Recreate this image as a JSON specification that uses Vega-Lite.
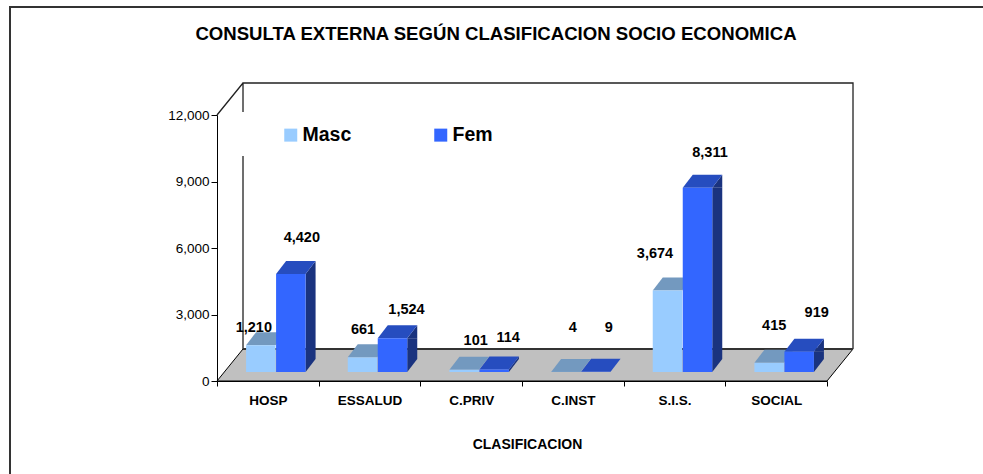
{
"$schema":"https://vega.github.io/schema/vega-lite/v6.json",
"width":610,"height":266,
"autosize":"none",
"padding":{"left":217,"top":115,"right":156,"bottom":93},
"background":"white",
"config":{"font":"Liberation Sans","view":{"stroke":null},"text":{"font":"Liberation Sans"}},
"title":{"text":"CONSULTA EXTERNA SEGÚN CLASIFICACION SOCIO ECONOMICA","anchor":"middle","dx":-26,"dy":41,"offset":0,"fontSize":18.6,"fontWeight":"bold","color":"#000","font":"Liberation Sans"},
"data":{"values":[
{"category":"HOSP","series":"Masc","value":1210},{"category":"HOSP","series":"Fem","value":4420},
{"category":"ESSALUD","series":"Masc","value":661},{"category":"ESSALUD","series":"Fem","value":1524},
{"category":"C.PRIV","series":"Masc","value":101},{"category":"C.PRIV","series":"Fem","value":114},
{"category":"C.INST","series":"Masc","value":4},{"category":"C.INST","series":"Fem","value":9},
{"category":"S.I.S.","series":"Masc","value":3674},{"category":"S.I.S.","series":"Fem","value":8311},
{"category":"SOCIAL","series":"Masc","value":415},{"category":"SOCIAL","series":"Fem","value":919}
]},
"encoding":{
"x":{"field":"category","type":"nominal","sort":["HOSP","ESSALUD","C.PRIV","C.INST","S.I.S.","SOCIAL"],
"scale":{"type":"band","paddingInner":0,"paddingOuter":0},
"axis":{"title":"CLASIFICACION","titleFontSize":14,"titleFontWeight":"bold","titleColor":"#000","titleX":310,"titleY":63,"titleBaseline":"middle","labelAngle":0,"labelFontSize":13.5,"labelFontWeight":"bold","labelColor":"#000","labelPadding":7,"labelBaseline":"top","tickBand":"extent","tickSize":5,"tickColor":"#000","domainColor":"#000","grid":false,"zindex":1}},
"y":{"field":"value","type":"quantitative","stack":null,"scale":{"domain":[0,12000],"nice":false},
"axis":{"title":null,"values":[0,3000,6000,9000,12000],"format":",d","labelFontSize":13.5,"labelColor":"#000","labelPadding":2,"tickSize":6,"tickColor":"#000","domainColor":"#000","grid":false,"zindex":1}}
},
"layer":[
{"transform":[{"filter":"datum.category=='HOSP' && datum.series=='Masc'"}],"mark":{"type":"point","shape":"M0,0 L26,-32 L636,-32 L610,0 Z","size":4,"filled":true,"fill":"#C0C0C0","stroke":"#000","strokeWidth":1,"opacity":1,"xOffset":-50.83},"encoding":{"y":{"datum":0}}},
{"transform":[{"filter":"datum.category=='HOSP' && datum.series=='Masc'"}],"mark":{"type":"point","shape":"M26,-32 L26,-225 M26,-269 L26,-298 L636,-298 L636,-32 M0,-266 L26,-298","size":4,"filled":false,"stroke":"#222","strokeWidth":1.3,"opacity":1,"xOffset":-50.83},"encoding":{"y":{"datum":0}}},
{"transform":[{"filter":"datum.category=='HOSP' && datum.series=='Masc'"}],"mark":{"type":"point","shape":"M26,-32 L636,-32 M-207,93 L-207,-374 L766,-374","size":4,"filled":false,"stroke":"#333","strokeWidth":2,"opacity":1,"xOffset":-50.83},"encoding":{"y":{"datum":0}}},

{"transform":[{"filter":"datum.series=='Masc'"}],"mark":{"type":"point","shape":"M-14.75,0 L-4.75,-13 L24.75,-13 L14.75,0 Z","size":4,"filled":true,"fill":"#7399BF","strokeWidth":0,"opacity":1,"xOffset":-7,"yOffset":-9}},
{"transform":[{"filter":"datum.series=='Masc'"}],"mark":{"type":"bar","width":29.5,"xOffset":-7,"yOffset":-9,"y2Offset":-9},"encoding":{"y2":{"datum":0},"color":{"field":"series","type":"nominal","scale":{"domain":["Masc","Fem"],"range":["#99CCFF","#3366FF"]},"legend":{"title":null,"orient":"none","legendX":64,"legendY":10,"direction":"horizontal","columns":2,"symbolType":"square","symbolSize":169,"symbolStrokeWidth":0,"labelFontSize":19.5,"labelFontWeight":"bold","labelColor":"#000","labelOffset":2,"columnPadding":79,"padding":0}}}},

{"transform":[{"filter":"datum.series=='Fem' && datum.value>=600"}],"mark":{"type":"bar","width":10,"color":"#1A337F","xOffset":42.75,"yOffset":-9,"y2Offset":-22},"encoding":{"y2":{"datum":0}}},
{"transform":[{"filter":"datum.series=='Fem' && datum.value>=600"}],"mark":{"type":"point","shape":"M14.75,0 L24.75,-13 L24.75,0 Z","size":4,"filled":true,"fill":"#1A337F","strokeWidth":0,"opacity":1,"xOffset":23,"yOffset":-9}},
{"transform":[{"filter":"datum.series=='Fem' && datum.value>=600"}],"mark":{"type":"point","shape":"M14.75,0 L24.75,-13 L14.75,-13 Z","size":4,"filled":true,"fill":"#1A337F","strokeWidth":0,"opacity":1,"xOffset":23,"yOffset":-9},"encoding":{"y":{"datum":0}}},
{"transform":[{"filter":"datum.value==114"}],"mark":{"type":"point","shape":"M14.75,0 L24.75,-13 L24.75,-10.5 L14.75,2.5 Z","size":4,"filled":true,"fill":"#1A337F","strokeWidth":0,"opacity":1,"xOffset":23,"yOffset":-9}},
{"transform":[{"filter":"datum.series=='Fem'"}],"mark":{"type":"point","shape":"M-14.75,0 L-4.75,-13 L24.75,-13 L14.75,0 Z","size":4,"filled":true,"fill":"#264DBF","strokeWidth":0,"opacity":1,"xOffset":23,"yOffset":-9}},
{"transform":[{"filter":"datum.series=='Fem'"}],"mark":{"type":"bar","width":29.5,"xOffset":23,"yOffset":-9,"y2Offset":-9},"encoding":{"y2":{"datum":0},"color":{"field":"series","type":"nominal"}}},

{"transform":[{"filter":"datum.value==1210"}],"mark":{"type":"text","dx":-14,"dy":-26,"fontSize":14.5,"fontWeight":"bold","color":"#000"},"encoding":{"text":{"field":"value","format":","}}},
{"transform":[{"filter":"datum.value==4420"}],"mark":{"type":"text","dx":34,"dy":-45,"fontSize":14.5,"fontWeight":"bold","color":"#000"},"encoding":{"text":{"field":"value","format":","}}},
{"transform":[{"filter":"datum.value==661"}],"mark":{"type":"text","dx":-6.5,"dy":-36,"fontSize":14.5,"fontWeight":"bold","color":"#000"},"encoding":{"text":{"field":"value","format":","}}},
{"transform":[{"filter":"datum.value==1524"}],"mark":{"type":"text","dx":37,"dy":-37,"fontSize":14.5,"fontWeight":"bold","color":"#000"},"encoding":{"text":{"field":"value","format":","}}},
{"transform":[{"filter":"datum.value==101"}],"mark":{"type":"text","dx":4.5,"dy":-38,"fontSize":14.5,"fontWeight":"bold","color":"#000"},"encoding":{"text":{"field":"value","format":","}}},
{"transform":[{"filter":"datum.value==114"}],"mark":{"type":"text","dx":37,"dy":-40,"fontSize":14.5,"fontWeight":"bold","color":"#000"},"encoding":{"text":{"field":"value","format":","}}},
{"transform":[{"filter":"datum.value==4"}],"mark":{"type":"text","dx":0,"dy":-53,"fontSize":14.5,"fontWeight":"bold","color":"#000"},"encoding":{"text":{"field":"value","format":","}}},
{"transform":[{"filter":"datum.value==9"}],"mark":{"type":"text","dx":36,"dy":-53,"fontSize":14.5,"fontWeight":"bold","color":"#000"},"encoding":{"text":{"field":"value","format":","}}},
{"transform":[{"filter":"datum.value==3674"}],"mark":{"type":"text","dx":-19.5,"dy":-45.5,"fontSize":14.5,"fontWeight":"bold","color":"#000"},"encoding":{"text":{"field":"value","format":","}}},
{"transform":[{"filter":"datum.value==8311"}],"mark":{"type":"text","dx":35.5,"dy":-44,"fontSize":14.5,"fontWeight":"bold","color":"#000"},"encoding":{"text":{"field":"value","format":","}}},
{"transform":[{"filter":"datum.value==415"}],"mark":{"type":"text","dx":-2,"dy":-46,"fontSize":14.5,"fontWeight":"bold","color":"#000"},"encoding":{"text":{"field":"value","format":","}}},
{"transform":[{"filter":"datum.value==919"}],"mark":{"type":"text","dx":40.5,"dy":-48,"fontSize":14.5,"fontWeight":"bold","color":"#000"},"encoding":{"text":{"field":"value","format":","}}}
]
}
